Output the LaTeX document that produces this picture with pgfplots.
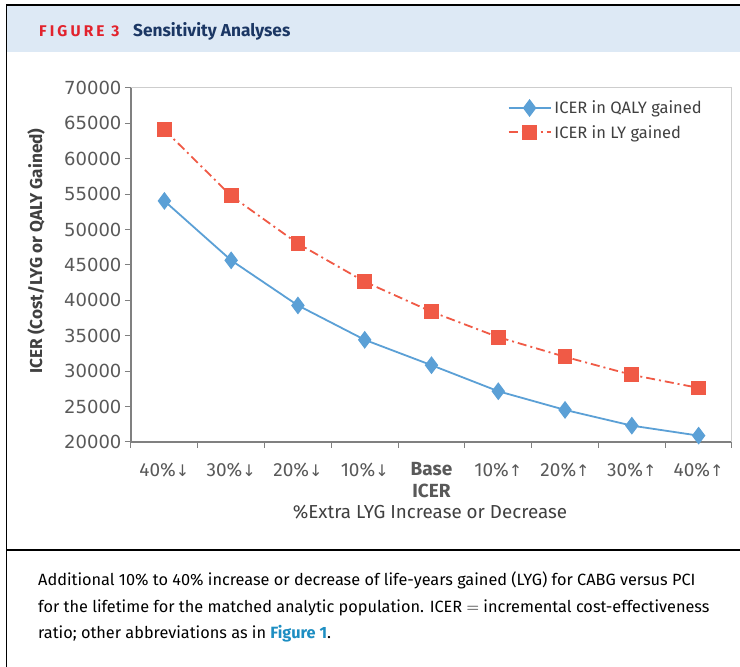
\documentclass[border=0pt]{standalone}
\usepackage{fontspec}
\usepackage{pgfplots}
\pgfplotsset{compat=1.18}
\setmainfont{Fira Sans}
\newfontfamily\headfont{Fira Sans}
\newfontfamily\tickfont{DejaVu Sans}
\newfontfamily\arrfont{DejaVu Sans}
\definecolor{qalyblue}{RGB}{91,160,214}
\definecolor{lyred}{RGB}{240,90,70}
\definecolor{axisgray}{RGB}{128,128,128}
\definecolor{framegray}{RGB}{205,205,205}
\definecolor{textgray}{RGB}{89,89,89}
\definecolor{labgray}{RGB}{64,64,64}
\definecolor{headbg}{RGB}{221,233,245}
\definecolor{figred}{RGB}{226,35,45}
\definecolor{navy}{RGB}{27,55,100}
\definecolor{linkblue}{RGB}{29,142,194}
\newcommand{\dn}{{\arrfont\fontsize{16}{16}\selectfont ↓}}
\newcommand{\up}{{\arrfont\fontsize{16}{16}\selectfont ↑}}
\begin{document}
\begin{tikzpicture}[x=1pt,y=1pt]
\useasboundingbox (0,0) rectangle (740,667);
\fill[white] (0,0) rectangle (740,667);
\fill[headbg] (7,615) rectangle (740,661);
\draw[black, line width=1.6pt] (6.5,0) -- (6.5,662) -- (740,662);
\draw[black, line width=1.4pt] (6.5,117) -- (740,117);
\node[anchor=base west, inner sep=0pt, text=figred, font=\headfont\bfseries\fontsize{15.5}{17}\selectfont] at (39,630) {\addfontfeature{LetterSpace=20}FIGURE 3};
\node[anchor=base west, inner sep=0pt, text=navy, font=\headfont\bfseries\fontsize{17.3}{20}\selectfont] at (133,630) {Sensitivity Analyses};
\begin{scope}[every node/.style={anchor=base west, inner sep=0pt, text=black, font=\fontsize{16.3}{20}\selectfont}]
\node at (38,81) {Additional 10\% to 40\% increase or decrease of life-years gained (LYG) for CABG versus PCI};
\node at (38,54) {for the lifetime for the matched analytic population. ICER $=$ incremental cost-effectiveness};
\node at (38,28) {ratio; other abbreviations as in \textcolor{linkblue}{\bfseries Figure 1}.};
\end{scope}
\begin{axis}[
  at={(131pt,225pt)}, anchor=south west,
  scale only axis, width=601pt, height=354pt,
  xmin=-0.5, xmax=8.5, ymin=20000, ymax=70000,
  axis x line*=bottom, axis y line*=left,
  axis line style={draw=axisgray, line width=1.2pt, -},
  tick style={draw=axisgray, line width=1pt},
  tick align=outside, major tick length=6pt,
  ytick={20000,25000,...,70000},
  scaled y ticks=false,
  yticklabel style={font=\tickfont\fontsize{18}{20}\selectfont, text=textgray},
  /pgf/number format/.cd, fixed, set thousands separator={}, assume math mode=true,
  /pgfplots/.cd,
  xtick={-0.5,0.5,...,8.5}, xticklabels={},
  extra x ticks={0,1,2,3,4,5,6,7,8},
  extra x tick labels={40\%\dn,30\%\dn,20\%\dn,10\%\dn,\bfseries Base\\\bfseries ICER,10\%\up,20\%\up,30\%\up,40\%\up},
  extra x tick style={major tick length=0pt},
  xticklabel style={font=\fontsize{19}{22}\selectfont, text=textgray, align=center, anchor=north, yshift=-17pt},
  ylabel={\bfseries ICER (Cost/LYG or QALY Gained)},
  ylabel style={at={(axis description cs:-0.158,0.54)}, anchor=center, rotate=0, font=\fontsize{17.2}{20}\selectfont, text=labgray},
  xlabel={\%Extra LYG Increase or Decrease},
  xlabel style={at={(axis description cs:0.4975,-0.197)}, anchor=center, font=\fontsize{18.8}{20}\selectfont, text=labgray},
  legend style={at={(rel axis cs:0.955,0.97)}, anchor=north east, draw=none, fill=none,
    font=\fontsize{16.5}{20}\selectfont, text=labgray, row sep=6pt, inner sep=0pt,
    nodes={inner xsep=3pt}},
  legend cell align=left,
  legend image code/.code={\draw[mark repeat=2,mark phase=2,#1] plot coordinates {(0pt,0pt) (21pt,0pt) (42pt,0pt)};},
  clip=false,
]
\draw[framegray, line width=1pt] (rel axis cs:0,1) -- (rel axis cs:1,1) -- (rel axis cs:1,0);
\addplot[qalyblue, line width=1.8pt, mark=diamond*, mark size=7.5pt, mark options={solid}]
  coordinates {(0,54050) (1,45660) (2,39290) (3,34430) (4,30850) (5,27170) (6,24530) (7,22310) (8,20900)};
\addlegendentry{ICER in QALY gained}
\addplot[lyred, line width=1.8pt, dash pattern=on 9pt off 4pt on 2pt off 4pt, mark=square*, mark size=6.5pt, mark options={solid}]
  coordinates {(0,64100) (1,54760) (2,48020) (3,42640) (4,38400) (5,34810) (6,32030) (7,29480) (8,27640)};
\addlegendentry{ICER in LY gained}
\end{axis}
\end{tikzpicture}
\end{document}
